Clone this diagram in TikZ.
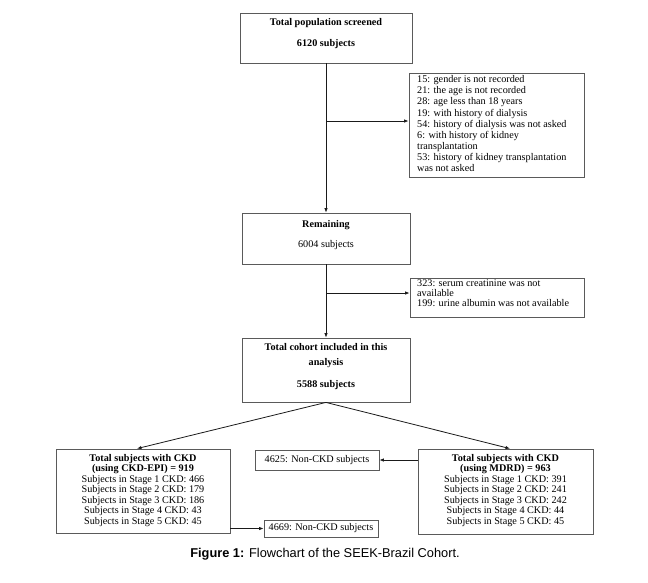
\documentclass[tikz,border=0pt]{standalone}
\usepackage{fontspec}
\setmainfont{Liberation Serif}
\newfontfamily\capfont{Liberation Sans}
\usetikzlibrary{arrows.meta,calc}
\definecolor{boxgray}{HTML}{5A5A5A}
\definecolor{linecol}{HTML}{1A1A1A}
\begin{document}
\begin{tikzpicture}[x=1pt,y=-1pt,
  box/.style={draw=boxgray, line width=0.8pt, inner sep=0pt, rectangle},
  txt/.style={font=\fontsize{10.2}{11}\selectfont, align=center, inner sep=0pt},
  ltxt/.style={font=\fontsize{10.2}{11.1}\selectfont, align=left, inner sep=0pt, anchor=north west},
  arr/.style={-{Latex[length=4.5pt,width=3.5pt]}, draw=linecol, line width=0.8pt},
  ln/.style={draw=linecol, line width=0.8pt}]
\useasboundingbox (0,0) rectangle (648,582);
\fill[white] (0,0) rectangle (648,582);

% main boxes
\node[box, minimum width=172pt, minimum height=50pt] (b1) at (326,38) {};
\node[txt] (t1) at (326,33.5) {\textbf{Total population screened}\\[10pt]\textbf{6120 subjects}};

\node[box, minimum width=168pt, minimum height=51pt] (b2) at (326,238.5) {};
\node[txt] (t2) at (326,235) {\textbf{Remaining}\\[9pt]6004 subjects};

\node[box, minimum width=168pt, minimum height=64pt] (b3) at (326,370) {};
\node[txt] (t3) at (326,366.5) {\textbf{Total cohort included in this}\\[4pt]\textbf{analysis}\\[11pt]\textbf{5588 subjects}};

% exclusion boxes
\node[box, minimum width=175pt, minimum height=104pt] (e1) at (496.5,125) {};
\node[ltxt] (te1) at (417,75.5) {15: gender is not recorded\\
21: the age is not recorded\\
28: age less than 18 years\\
19: with history of dialysis\\
54: history of dialysis was not asked\\
6: with history of kidney\\
transplantation\\
53: history of kidney transplantation\\
was not asked};

\node[box, minimum width=174pt, minimum height=39pt] (e2) at (497,297.5) {};
\node[ltxt, font=\fontsize{10.2}{9.8}\selectfont] (te2) at (417,279.5) {323: serum creatinine was not\\
available\\
199: urine albumin was not available};

% CKD boxes
\node[box, minimum width=174pt, minimum height=84pt] (ckl) at (143,491) {};
\node[txt, font=\fontsize{10.2}{10.5}\selectfont] (tckl) at (143,490.5) {\textbf{Total subjects with CKD}\\
\textbf{(using CKD-EPI) = 919}\\
Subjects in Stage 1 CKD: 466\\
Subjects in Stage 2 CKD: 179\\
Subjects in Stage 3 CKD: 186\\
Subjects in Stage 4 CKD: 43\\
Subjects in Stage 5 CKD: 45};

\node[box, minimum width=175pt, minimum height=85pt] (ckr) at (505.5,491.5) {};
\node[txt, font=\fontsize{10.2}{10.5}\selectfont] (tckr) at (505.5,490.5) {\textbf{Total subjects with CKD}\\
\textbf{(using MDRD) = 963}\\
Subjects in Stage 1 CKD: 391\\
Subjects in Stage 2 CKD: 241\\
Subjects in Stage 3 CKD: 242\\
Subjects in Stage 4 CKD: 44\\
Subjects in Stage 5 CKD: 45};

\node[box, txt, minimum width=124pt, minimum height=20pt] (n1) at (317,460) {4625: Non-CKD subjects};
\node[box, txt, minimum width=114pt, minimum height=17pt] (n2) at (321,528.5) {4669: Non-CKD subjects};

% connectors
\draw[arr] (b1.south) -- (b2.north);
\coordinate (j1) at (326,121);
\draw[arr] (j1) -- (j1 -| e1.west);
\draw[arr] (b2.south) -- (b3.north);
\coordinate (j2) at (326,293);
\draw[arr] (j2) -- (j2 -| e2.west);
\draw[arr] (b3.south) -- ([xshift=-6pt]ckl.north);
\draw[arr] (b3.south) -- ([xshift=4.5pt]ckr.north);
\draw[arr] (ckr.west |- n1.east) -- (n1.east);
\draw[arr] (ckl.east |- n2.west) -- (n2.west);

% caption
\node[inner sep=0pt, font=\capfont\fontsize{12.8}{14}\selectfont] (cap) at (325,554) {\textbf{Figure 1:} Flowchart of the SEEK-Brazil Cohort.};
\end{tikzpicture}
\end{document}
